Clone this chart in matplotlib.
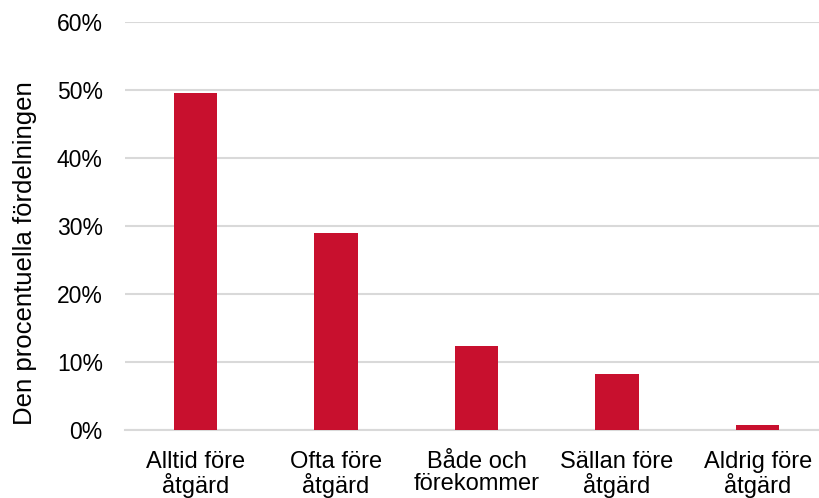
import matplotlib
matplotlib.use("Agg")
import matplotlib.pyplot as plt
from matplotlib.ticker import FuncFormatter

categories = ["Alltid före\nåtgärd", "Ofta före\nåtgärd", "Både och\nförekommer", "Sällan före\nåtgärd", "Aldrig före\nåtgärd"]
values = [49.6, 29.0, 12.3, 8.3, 0.7]
ylabel = "Den procentuella fördelningen"

plt.rcParams['font.family'] = ['Liberation Sans', 'DejaVu Sans']

fig = plt.figure(figsize=(8.2, 4.98), dpi=100)
ax = fig.add_axes([125/820, 1 - 430/498, 703/820, 408/498])

x = list(range(len(categories)))
ax.bar(x, values, width=0.31, color="#C8102E", zorder=3)
ax.set_xlim(-0.5, len(categories) - 0.5)
ax.set_ylim(0, 60)
ax.set_yticks(range(0, 61, 10))
ax.yaxis.set_major_formatter(FuncFormatter(lambda v, p: f"{int(v)}%"))
ax.set_xticks(x)
ax.set_xticklabels(categories, fontsize=17, linespacing=1.0)
ax.tick_params(axis='y', labelsize=16.5, length=0, pad=16)
ax.tick_params(axis='x', length=0, pad=15)
ax.grid(axis='y', color="#D9D9D9", linewidth=1.5, zorder=0)
for s in ["top", "right", "left"]:
    ax.spines[s].set_visible(False)
ax.spines["bottom"].set_color("#D9D9D9")
ax.spines["bottom"].set_linewidth(1.5)
ax.set_ylabel(ylabel, fontsize=18.5, va='center', ha='center')
ax.yaxis.set_label_coords(-0.142, 0.434)

fig.savefig("out.png", dpi=100)
